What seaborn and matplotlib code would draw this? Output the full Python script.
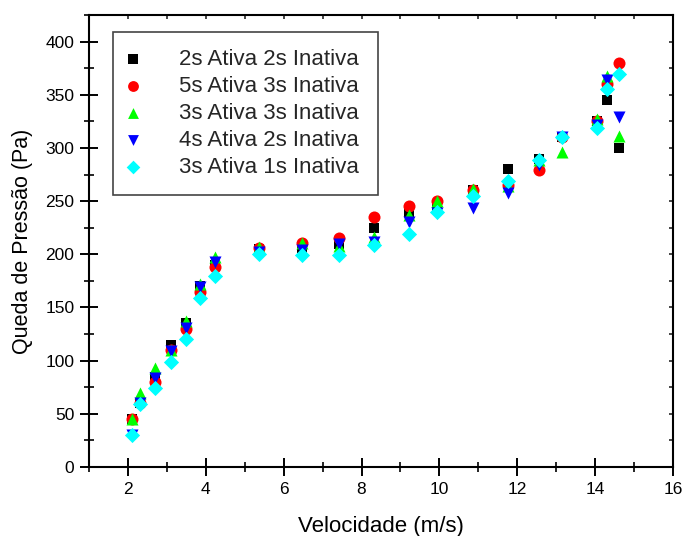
import matplotlib
matplotlib.use("Agg")
import matplotlib.pyplot as plt
from matplotlib.ticker import MultipleLocator
import seaborn as sns
import pandas as pd

# Velocity grid shared by all pulse configurations (m/s)
velocidade = [2.10, 2.32, 2.69, 3.12, 3.50, 3.85, 4.23, 5.38, 6.46, 7.43,
              8.32, 9.21, 9.94, 10.85, 11.76, 12.56, 13.15, 14.05, 14.31, 14.61]

# Pressure drop (Pa) per cleaning-pulse configuration
p_2a_2i = [45, 60, 85, 115, 135, 170, 190, 205, 206, 210,
           225, 240, 245, 260, 280, 290, 310, 325, 345, 300]
p_5a_3i = [45, 60, 80, 110, 130, 165, 188, 206, 211, 215,
           235, 245, 250, 260, 265, 279, 310, 325, 360, 380]
p_3a_3i = [45, 70, 93, 110, 137, 172, 197, 207, 211, 208,
           216, 237, 250, 261, 264, 289, 296, 327, 368, 311]
p_4a_2i = [30, 60, 84, 109, 131, 169, 193, 202, 204, 210,
           212, 230, 239, 244, 258, 284, 310, 322, 364, 329]
p_3a_1i = [30, 59, 74, 99, 120, 159, 180, 200, 199, 199,
           209, 219, 240, 255, 269, 289, 310, 319, 355, 370]

series = ["2s Ativa 2s Inativa", "5s Ativa 3s Inativa", "3s Ativa 3s Inativa",
          "4s Ativa 2s Inativa", "3s Ativa 1s Inativa"]
valores = [p_2a_2i, p_5a_3i, p_3a_3i, p_4a_2i, p_3a_1i]
cores = ["#000000", "#ff0000", "#00ff00", "#0000ff", "#00ffff"]
marcadores = ["s", "o", "^", "v", "D"]
tamanhos = [55, 75, 75, 75, 60]

df = pd.DataFrame({
    "Velocidade": velocidade * len(series),
    "Queda": [v for vals in valores for v in vals],
    "Serie": [s for s in series for _ in velocidade],
})

sns.set_theme(style="white")
plt.rcParams["font.family"] = ["Liberation Sans", "DejaVu Sans"]

fig = plt.figure(figsize=(6.84, 5.36), dpi=100)
ax = fig.add_axes([0.130, 0.1287, 0.854, 0.8433])

for nome, cor, mk, sz in zip(series, cores, marcadores, tamanhos):
    sns.scatterplot(data=df[df["Serie"] == nome], x="Velocidade", y="Queda",
                    color=cor, marker=mk, s=sz, linewidth=0, label=nome, ax=ax)

ax.set_xlim(1, 16)
ax.set_ylim(0, 425)
ax.xaxis.set_major_locator(MultipleLocator(2))
ax.xaxis.set_minor_locator(MultipleLocator(1))
ax.yaxis.set_major_locator(MultipleLocator(50))
ax.yaxis.set_minor_locator(MultipleLocator(25))
ax.set_yticks(range(0, 401, 50))

for sp in ax.spines.values():
    sp.set_visible(True)
    sp.set_color("black")
    sp.set_linewidth(1.5)

ax.tick_params(which="both", bottom=True, left=True, top=False, right=False)
ax.tick_params(which="major", direction="inout", length=13, width=1.4,
               labelsize=12.5, colors="black", pad=4)
ax.tick_params(which="minor", direction="inout", length=7, width=1.2, colors="black")

# Small inward ticks on the top and right frame
top = ax.secondary_xaxis("top")
top.xaxis.set_major_locator(MultipleLocator(1))
top.tick_params(top=True, direction="in", length=3, width=1.2, labeltop=False)
right = ax.secondary_yaxis("right")
right.yaxis.set_major_locator(MultipleLocator(25))
right.tick_params(right=True, direction="in", length=3, width=1.2, labelright=False)

ax.set_xlabel("Velocidade (m/s)", fontsize=16, color="black", labelpad=14)
ax.set_ylabel("Queda de Pressão (Pa)", fontsize=15.5, color="black", labelpad=9)

leg = ax.legend(loc="upper left", bbox_to_anchor=(0.041, 0.608, 0.454, 0.354),
                mode="expand", fontsize=16,
                frameon=True, fancybox=False, framealpha=1, edgecolor="#444444",
                borderpad=0.75, labelspacing=0.27, handlelength=0.3,
                handletextpad=1.93, borderaxespad=0, markerscale=0.9)
leg.get_frame().set_linewidth(1.2)

fig.savefig("out.png", dpi=100)
